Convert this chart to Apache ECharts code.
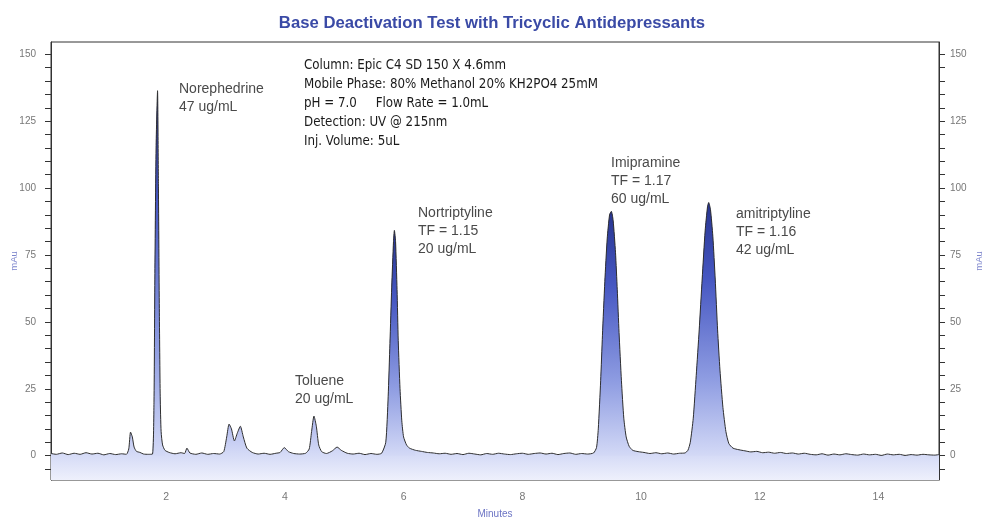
<!DOCTYPE html>
<html>
<head>
<meta charset="utf-8">
<script src="https://cdn.jsdelivr.net/npm/echarts@6/dist/echarts.min.js"></script>
<style>
  html, body { margin: 0; padding: 0; background: #fff; }
  #chart { width: 984px; height: 519px; }
</style>
</head>
<body>
<div id="chart"></div>
<script>
// 保留时间 (min) 与 信号 (mAu)
const timeMin = [
  0.06, 0.15, 0.25, 0.35, 0.45, 0.55, 0.65, 0.75, 0.85, 0.95, 1.05, 1.15, 1.25, 1.33,
  1.37, 1.40, 1.43, 1.46, 1.50, 1.56, 1.62, 1.70, 1.77,
  1.795, 1.81, 1.83, 1.855, 1.87, 1.885, 1.90, 1.915, 1.94, 1.98,
  2.05, 2.15, 2.25, 2.31, 2.35, 2.40, 2.50, 2.60, 2.70, 2.80, 2.90,
  2.97, 3.02, 3.06, 3.10, 3.15, 3.20, 3.25, 3.30, 3.36, 3.45, 3.55, 3.65, 3.75, 3.85,
  3.92, 3.99, 4.06, 4.15, 4.25, 4.35, 4.41, 4.45, 4.49, 4.53, 4.57, 4.62, 4.70,
  4.80, 4.88, 4.95, 5.05, 5.15, 5.25, 5.35, 5.45, 5.55, 5.63,
  5.70, 5.74, 5.77, 5.80, 5.83, 5.845, 5.865, 5.89, 5.91, 5.94, 5.97, 6.00, 6.05, 6.10,
  6.20, 6.30, 6.40, 6.50, 6.60, 6.70, 6.80, 6.90, 7.00, 7.10, 7.20, 7.30, 7.40, 7.50,
  7.60, 7.70, 7.80, 7.90, 8.00, 8.10, 8.20, 8.30, 8.40, 8.50, 8.60, 8.70, 8.80, 8.90,
  9.00, 9.10, 9.20,
  9.25, 9.28, 9.32, 9.35, 9.39, 9.43, 9.47, 9.50, 9.53, 9.57, 9.60, 9.63, 9.67, 9.71, 9.75, 9.80, 9.86, 9.95,
  10.05, 10.15, 10.25, 10.35, 10.45, 10.55, 10.65, 10.74,
  10.79, 10.83, 10.88, 10.93, 10.98, 11.03, 11.08, 11.12, 11.14, 11.17, 11.21, 11.25, 11.29, 11.33, 11.38, 11.43, 11.48, 11.55,
  11.65, 11.75, 11.85, 11.95, 12.05, 12.15, 12.25, 12.35, 12.45, 12.55, 12.65, 12.75, 12.85, 12.95,
  13.05, 13.15, 13.25, 13.35, 13.45, 13.55, 13.65, 13.75, 13.85, 13.95, 14.05, 14.15, 14.25, 14.35,
  14.45, 14.55, 14.65, 14.75, 14.85, 14.95, 15.02
];
const signal = [
  0.8, 0.5, 1.0, 0.4, 0.9, 0.5, 1.1, 0.6, 0.9, 0.3, 0.8, 0.4, 0.7, 0.5,
  2.5, 8.8, 7.0, 3.2, 1.6, 1.2, 0.6, 0.5, 0.6,
  20, 68, 115, 136.4, 100, 55, 22, 9, 4, 2,
  1.2, 0.7, 1.1, 0.8, 2.8, 1.0, 0.5, 1.0, 0.5, 0.8, 0.6,
  1.5, 7, 11.8, 10, 5.5, 8.5, 11, 7, 2.8, 1.2, 0.6, 0.9, 0.5, 0.9,
  1.2, 3, 1.5, 0.8, 0.6, 0.9, 2.5, 9, 14.8, 11, 4, 1.5, 0.8,
  1.8, 3.2, 2, 0.9, 0.6, 0.9, 0.4, 0.8, 0.5, 0.9,
  5, 22, 42, 63, 80, 84.2, 80, 62, 43, 25, 13, 7, 4, 2.8,
  2.0, 1.6, 1.2, 1.0, 0.7, 0.9, 0.5, 0.8, 0.4, 0.9, 0.6, 0.3, 0.8, 0.5,
  0.9, 0.6, 0.4, 0.7, 0.9, 0.5, 0.8, 1.0, 0.6, 0.9, 0.4, 0.8, 1.0, 0.5,
  0.8, 0.6, 1.0,
  3, 10, 28, 45, 65, 81, 90, 91.3, 88, 76, 62, 46, 28, 14, 7, 3.5, 2, 1.5,
  1.2, 0.8, 1.1, 0.7, 1.0, 0.6, 0.9, 1.0,
  2, 5, 14, 30, 47, 66, 84, 93, 94.6, 92, 82, 66, 47, 32, 18, 9, 4.5, 2.8,
  2.2, 1.8, 1.4, 1.6, 1.1, 1.3, 0.9, 1.2, 0.8, 1.0, 0.6, 0.9, 0.5, 0.3,
  0.7, 0.2, 0.6, 0.3, 0.7, 0.4, 0.2, 0.6, 0.3, 0.5, 0.1, 0.6, 0.3, 0.5,
  0.1, 0.4, 0.2, 0.5, 0.3, 0.2, 0.4
];
// 主要色谱峰的时间范围 (用于单独的渐变填充)
const peakRanges = [[1.77, 1.98], [5.63, 6.20], [9.20, 9.95], [10.74, 11.75]];
const xLabelValues = [2, 4, 6, 8, 10, 12, 14];
const xTickValues = [];
for (let t = 0.25; t <= 15; t += 0.25) xTickValues.push(+t.toFixed(2));
const yLabelValues = [0, 25, 50, 75, 100, 125, 150];
const yTickValues = [-5, 0, 5, 10, 15, 20, 25, 30, 35, 40, 45, 50, 55, 60, 65, 70, 75,
  80, 85, 90, 95, 100, 105, 110, 115, 120, 125, 130, 135, 140, 145, 150];

const points = timeMin.map((t, i) => [t, signal[i]]);

const myChart = echarts.init(document.getElementById('chart'));

const baseFill = new echarts.graphic.LinearGradient(0, 0, 0, 1, [
  { offset: 0, color: '#2b3896' },
  { offset: 0.5, color: '#6473d0' },
  { offset: 0.83, color: '#a9b3ec' },
  { offset: 0.93, color: '#d3d9f6' },
  { offset: 1, color: '#eef0fc' }
]);
// 峰的渐变只填到 0 线，底部颜色与底层一致
function peakFill() {
  return new echarts.graphic.LinearGradient(0, 0, 0, 1, [
    { offset: 0, color: '#27348f' },
    { offset: 0.3, color: '#4657c2' },
    { offset: 0.7, color: '#8f9de2' },
    { offset: 1, color: '#d3d9f6' }
  ]);
}

const peakSeries = peakRanges.map(r => ({
  type: 'line',
  data: points.filter(p => p[0] >= r[0] && p[0] <= r[1]),
  showSymbol: false,
  smooth: 0.2,
  lineStyle: { width: 0 },
  areaStyle: { origin: 'auto', color: peakFill(), opacity: 1 },
  silent: true,
  z: 2
}));

const labelFont = '"Liberation Sans", Arial, sans-serif';
const txt = (x, y, text) => ({
  type: 'text', left: x, top: y,
  style: { text: text, fill: '#4a4a4a', font: '14px ' + labelFont, lineHeight: 18 }
});

const option = {
  animation: false,
  title: {
    text: 'Base Deactivation Test with Tricyclic Antidepressants',
    left: 'center',
    top: 10,
    textStyle: { color: '#3a4aa6', fontSize: 16.7, fontWeight: 'bold', fontFamily: labelFont }
  },
  grid: {
    left: 51, right: 45, top: 42, bottom: 39,
    outerBoundsMode: 'none',
    containLabel: false,
    show: true, borderColor: '#333', borderWidth: 1, backgroundColor: 'transparent'
  },
  xAxis: {
    type: 'value',
    min: 0.06,
    max: 15.02,
    name: 'Minutes',
    nameLocation: 'middle',
    nameGap: 29,
    nameMoveOverlap: false,
    nameTextStyle: { color: '#6c74c4', fontSize: 10, fontFamily: labelFont },
    axisLine: { show: true, lineStyle: { color: '#333' } },
    axisTick: { show: true, length: 5, lineStyle: { color: '#333' }, customValues: xTickValues },
    axisLabel: { color: '#777', fontSize: 10.5, fontFamily: labelFont, margin: 12, customValues: xLabelValues },
    splitLine: { show: false }
  },
  yAxis: [0, 1].map(i => ({
    type: 'value',
    position: i === 0 ? 'left' : 'right',
    min: -9.1,
    max: 154.6,
    name: 'mAu',
    nameLocation: 'middle',
    nameRotate: 90,
    nameGap: i === 0 ? 32 : 35,
    nameMoveOverlap: false,
    nameTextStyle: { color: '#7c84cc', fontSize: 9.5, fontFamily: labelFont },
    axisLine: { show: true, lineStyle: { color: '#333' } },
    axisTick: { show: true, length: 6, lineStyle: { color: '#333' }, customValues: yTickValues },
    axisLabel: { color: '#777', fontSize: 10, fontFamily: labelFont, margin: i === 0 ? 15 : 11, customValues: yLabelValues },
    splitLine: { show: false }
  })),
  series: [
    {
      type: 'line',
      data: points,
      showSymbol: false,
      smooth: 0.2,
      lineStyle: { width: 0 },
      areaStyle: { origin: 'start', color: baseFill, opacity: 1 },
      silent: true,
      z: 1
    },
    ...peakSeries,
    {
      type: 'line',
      data: points,
      showSymbol: false,
      smooth: 0.2,
      lineStyle: { color: '#2e2e2e', width: 1 },
      silent: true,
      z: 3
    }
  ],
  graphic: [
    {
      type: 'text', left: 304, top: 56,
      style: {
        text: 'Column: Epic C4 SD 150 X 4.6mm\nMobile Phase: 80% Methanol 20% KH2PO4 25mM\npH = 7.0     Flow Rate = 1.0mL\nDetection: UV @ 215nm\nInj. Volume: 5uL',
        fill: '#1a1a1a',
        font: '13.2px "DejaVu Sans Condensed", "DejaVu Sans", sans-serif',
        lineHeight: 19
      }
    },
    txt(179, 80, 'Norephedrine\n47 ug/mL'),
    txt(295, 372, 'Toluene\n20 ug/mL'),
    txt(418, 204, 'Nortriptyline\nTF = 1.15\n20 ug/mL'),
    txt(611, 154, 'Imipramine\nTF = 1.17\n60 ug/mL'),
    txt(736, 205, 'amitriptyline\nTF = 1.16\n42 ug/mL')
  ]
};

myChart.setOption(option);
window.addEventListener('resize', function () {
  myChart.resize();
});
</script>
</body>
</html>
